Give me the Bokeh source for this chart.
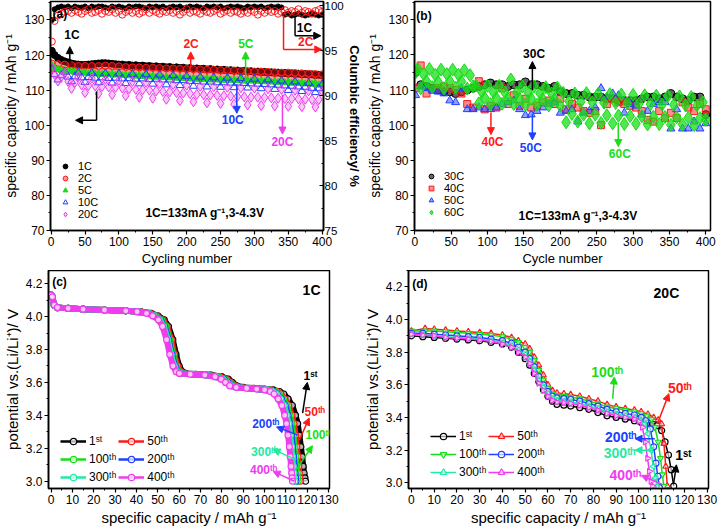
import math
from bokeh.plotting import figure
from bokeh.models import (Range1d, LinearAxis, SingleIntervalTicker, NumeralTickFormatter,
                          Arrow, NormalHead, Label, Legend, LegendItem)
from bokeh.layouts import column, row
from bokeh.embed import file_html
from bokeh.resources import INLINE

FONT = "Liberation Sans"
C_BLACK = "#000000"
C_RED = "#ff1a1a"
C_GREEN = "#18dd18"
C_BLUE = "#2040ff"
C_MAG = "#ee3cee"
C_CYAN = "#22eaa2"

# ---------------- (a) cycling at 1C..20C ----------------
cyc_a = [1] + list(range(5, 401, 5))
cap_1c = [121.2, 120.0, 119.2, 118.6, 118.2, 117.9, 117.6, 117.4, 117.3, 117.2, 117.2, 117.3, 117.4, 117.5, 117.6, 117.7, 117.7, 117.6, 117.5, 117.4, 117.3,
          117.3, 117.1, 117.2, 117.0, 117.1, 116.9, 117.0, 116.8, 116.9, 116.7,
          116.8, 116.6, 116.7, 116.5, 116.6, 116.4, 116.5, 116.3, 116.4, 116.2,
          116.3, 116.1, 116.2, 116.0, 116.1, 115.9, 116.0, 115.8, 115.9, 115.7,
          115.8, 115.6, 115.7, 115.5, 115.6, 115.4, 115.5, 115.3, 115.4, 115.2,
          115.3, 115.1, 115.2, 115.0, 115.1, 114.9, 115.0, 114.8, 114.9, 114.7,
          114.8, 114.6, 114.7, 114.5, 114.6, 114.4, 114.5, 114.3, 114.4, 114.2]
cap_2c = [117.6, 116.2, 117.4, 115.8, 117.3, 115.6, 117.1, 115.5, 116.9, 115.4, 116.9, 115.3, 116.9, 115.3, 116.9, 115.2, 117.0, 115.2, 116.9, 115.1, 116.8,
          115.1, 116.6, 115.0, 116.5, 115.0, 116.5, 114.9, 116.4, 114.9, 116.4,
          114.8, 116.3, 114.8, 116.2, 114.7, 116.2, 114.7, 116.1, 114.6, 116.0,
          114.5, 116.0, 114.5, 115.9, 114.4, 115.8, 114.3, 115.8, 114.3, 115.7,
          114.2, 115.6, 114.1, 115.6, 114.0, 115.5, 114.0, 115.4, 113.9, 115.3,
          113.8, 115.3, 113.8, 115.2, 113.7, 115.1, 113.6, 115.0, 113.5, 115.0,
          113.5, 114.9, 113.4, 114.8, 113.3, 114.7, 113.2, 114.6, 113.1, 114.5]
cap_5c = [117.0, 116.3, 116.0, 115.7, 115.6, 115.3, 115.4, 115.1, 115.2, 114.9, 115.0, 114.7, 115.0, 114.6, 114.8, 114.5, 114.7, 114.4, 114.6, 114.3, 114.5,
          114.2, 114.4, 114.1, 114.3, 114.0, 114.2, 113.9, 114.1, 113.8, 114.0,
          113.7, 113.9, 113.6, 113.8, 113.5, 113.7, 113.4, 113.6, 113.3, 113.5,
          113.2, 113.4, 113.1, 113.3, 113.0, 113.3, 112.9, 113.2, 112.9, 113.1,
          112.8, 113.0, 112.8, 112.9, 112.7, 112.9, 112.6, 112.8, 112.6, 112.7,
          112.5, 112.7, 112.4, 112.6, 112.3, 112.5, 112.2, 112.4, 112.1, 112.3,
          112.0, 112.2, 111.9, 112.1, 111.8, 112.0, 111.7, 111.9, 111.5, 111.7]
cap_10c = [116.0, 114.5, 113.0, 114.2, 115.2, 113.8, 112.5, 113.9, 115.0, 113.6, 112.3, 113.7, 114.9, 113.5, 112.2, 113.6, 114.8, 113.4, 112.1, 113.5, 114.7,
           113.3, 112.0, 113.4, 114.6, 113.2, 111.9, 113.3, 114.5, 113.1, 111.8,
           113.2, 114.4, 113.0, 111.6, 113.0, 114.2, 112.8, 111.4, 112.8, 114.0,
           112.6, 111.2, 112.6, 113.8, 112.4, 111.0, 112.4, 113.6, 112.2, 110.9,
           112.2, 113.5, 112.1, 110.8, 112.1, 113.4, 112.0, 110.7, 111.9, 113.2,
           111.8, 110.5, 111.7, 113.0, 111.6, 110.3, 111.5, 112.7, 111.3, 110.0,
           111.2, 112.4, 111.0, 109.7, 110.9, 112.0, 110.6, 109.4, 110.5, 111.6]
cap_20c = [116.3, 114.5, 112.6, 113.8, 114.8, 112.5, 110.5, 112.2, 113.8, 111.5, 109.3, 111.3, 113.4, 111.2, 109.0, 111.0, 113.1, 110.9, 108.7, 110.8, 112.8,
           110.6, 108.4, 110.4, 112.5, 110.2, 108.0, 110.1, 112.2, 110.0, 107.7,
           109.8, 111.9, 109.6, 107.4, 109.5, 111.6, 109.3, 107.0, 109.2, 111.4,
           109.0, 106.7, 108.8, 111.1, 108.7, 106.4, 108.6, 111.0, 108.5, 106.2,
           108.4, 110.8, 108.3, 106.0, 108.2, 110.7, 108.1, 105.8, 108.0, 110.6,
           108.0, 105.6, 107.9, 110.4, 107.8, 105.5, 107.7, 110.2, 107.6, 105.4,
           107.6, 110.0, 107.5, 105.3, 107.4, 109.8, 107.3, 105.2, 107.3, 109.7]
ce_1c = [98.4, 99.6, 99.8,
         99.9, 99.8, 99.9, 99.7, 99.9, 99.8, 99.8, 99.9, 99.7, 99.9,
         99.8, 99.9, 99.9, 99.8, 99.7, 99.9, 99.8, 99.9, 99.8, 99.7,
         99.9, 99.8, 99.9, 99.9, 99.8, 99.7, 99.9, 99.8, 99.9, 99.8,
         99.9, 99.7, 99.8, 99.9, 99.8, 99.9, 99.7, 99.8, 99.9, 99.8,
         99.9, 99.8, 99.7, 99.9, 99.8, 99.9, 99.8, 99.9, 99.7, 99.8,
         99.9, 99.8, 99.9, 99.8, 99.7, 99.9, 99.8, 99.9, 99.8, 99.9,
         99.7, 99.8, 99.9, 99.8, 99.9, 99.8,
         99.0, 99.1, 98.9, 99.0, 99.1, 99.0, 98.9, 99.0, 99.1, 99.0, 98.9, 99.0]
ce_2c = [96.0, 98.3, 98.9, 99.1, 99.3,
         99.4, 99.2, 99.5, 99.3, 99.1, 99.4, 99.6, 99.2, 99.3, 99.5,
         99.1, 99.4, 99.3, 99.6, 99.2, 99.4, 99.0, 99.3, 99.5, 99.2,
         99.4, 99.1, 99.3, 99.6, 99.2, 99.5, 99.3, 99.1, 99.4, 99.3,
         99.5, 99.2, 99.4, 99.0, 99.3, 99.6, 99.2, 99.4, 99.3, 99.1,
         99.5, 99.3, 99.2, 99.4, 99.6, 99.1, 99.3, 99.5, 99.2, 99.4,
         99.3, 99.1, 99.4, 99.2, 99.5, 99.3, 99.0, 99.4, 99.2, 99.5,
         99.3, 99.4, 99.1, 99.3, 99.5, 99.2, 99.4, 99.3, 99.6, 99.2,
         99.4, 99.3, 99.1, 99.4, 99.5, 99.3]

# ---------------- (b) cycling at 30C..60C ----------------
cyc_b = [1] + list(range(8, 401, 8))
cyc_b60 = [1] + list(range(4, 401, 4))
cap_30c = [115.0, 111.5, 111.0, 110.5, 110.0, 109.5, 109.5, 109.0, 109.5, 110.0,
           110.5, 111.0, 111.5, 112.0, 111.5, 111.5, 111.0, 111.5, 111.5, 112.3,
           111.5, 111.5, 111.0, 110.5, 111.0, 109.5, 109.0, 109.0, 108.5, 108.5,
           108.0, 108.0, 108.0, 107.5, 107.5, 107.0, 107.0, 107.0, 107.0, 107.5,
           108.0, 108.0, 107.5, 108.0, 109.0, 108.0, 107.5, 107.0, 108.0, 108.0, 103.0]
cap_40c = [110.5, 117.0, 109.0, 110.0, 110.5, 111.0, 110.5, 110.0, 109.0, 106.0,
           105.0, 112.5, 104.5, 105.5, 105.0, 110.5, 106.0, 108.5, 105.5, 107.5,
           105.0, 105.5, 106.5, 107.0, 106.0, 107.5, 104.5, 106.0, 105.0, 104.0,
           103.5, 104.0, 100.0, 106.0, 107.5, 106.5, 106.0, 105.5, 105.0, 104.0,
           101.5, 101.0, 104.0, 102.0, 103.5, 102.0, 106.5, 105.0, 104.0, 106.0, 104.5]
cap_50c = [108.5, 111.0, 110.5, 110.0, 109.5, 109.0, 107.0, 106.5, 110.5, 104.5,
           104.5, 105.0, 104.5, 104.5, 105.0, 106.0, 106.5, 107.0, 104.5, 102.8,
           103.0, 104.0, 105.0, 106.0, 106.5, 103.5, 104.0, 104.5, 101.0, 103.5,
           104.0, 105.0, 110.5, 108.0, 109.0, 108.5, 103.5, 106.0, 105.5, 103.0,
           104.0, 106.0, 106.5, 106.5, 99.0, 104.5, 99.0, 99.0, 101.0, 99.0, 100.5]
cap_60c = [115.0, 116.0, 110.5, 114.5, 112.5, 116.0, 110.8, 114.3, 112.3, 115.8,
           110.5, 114.5, 112.5, 115.8, 110.7, 114.3, 112.4, 115.6, 110.4, 114.2, 111.0,
           111.3, 106.2, 109.5, 107.8, 111.2, 106.0, 109.4, 107.7, 111.2, 106.1,
           109.3, 107.6, 113.0, 106.0, 109.3, 107.5, 111.0, 105.8, 109.2, 107.5,
           111.0, 105.8, 109.1, 107.4, 110.8, 105.6, 109.0, 107.3, 110.7, 105.5,
           109.2, 100.8, 106.8, 103.2, 109.0, 101.0, 106.6, 103.0, 109.1, 100.5,
           106.5, 103.0, 108.9, 100.6, 106.4, 102.8, 108.8, 100.5, 106.3, 102.7,
           108.7, 100.3, 106.2, 102.6, 108.6, 100.4, 106.1, 102.5, 108.5, 100.2,
           106.0, 102.4, 108.4, 100.3, 105.9, 102.3, 108.3, 100.1, 105.8, 102.2,
           108.2, 100.2, 105.7, 102.1, 108.0, 100.0, 105.6, 102.0, 106.5, 101.5]

# ---------------- (c) discharge curves at 1C ----------------
volt_c = [4.13, 4.12, 4.07, 4.055, 4.05, 4.045, 4.04, 4.035, 4.03, 4.02,
          4.005, 3.98, 3.94, 3.86, 3.77, 3.70, 3.665, 3.655,
          3.65, 3.645, 3.635, 3.62, 3.60, 3.58, 3.57, 3.565, 3.56,
          3.555, 3.545, 3.53, 3.50, 3.46, 3.40, 3.35, 3.28, 3.21, 3.15,
          3.09, 3.05, 3.02, 3.0]
capc_1st = [0, 0.6, 1.5, 3, 8, 15, 25, 35, 42, 47, 50, 53, 55, 57, 58.5, 60, 61.5, 63,
            68, 75, 80, 83, 85, 87, 90, 95, 100, 104, 107, 109, 111, 113, 114.5, 115.5, 116.3, 117, 117.6,
            118.1, 118.5, 118.9, 119.2]
capc_50th = [0, 0.6, 1.5, 3, 8, 15, 25, 35, 42, 46.5, 49.5, 52.3, 54.3, 56.3, 57.8, 59.3, 60.8, 62.3,
             67.5, 74.2, 79.2, 82.2, 84.2, 86.2, 89.2, 94.2, 99.2, 103, 105.8, 107.6, 109.5, 111.3, 112.8, 113.8, 114.5, 115.1, 115.6,
             116, 116.3, 116.5, 116.7]
capc_100th = [0, 0.6, 1.5, 3, 8, 15, 25, 35, 41.5, 46, 49, 51.8, 53.7, 55.6, 57.1, 58.6, 60.1, 61.6,
              66.8, 73.6, 78.5, 81.5, 83.5, 85.5, 88.5, 93.5, 98.4, 102.2, 105, 106.8, 108.7, 110.5, 111.9, 112.8, 113.5, 114.1, 114.6,
              115, 115.3, 115.5, 115.7]
capc_200th = [0, 0.6, 1.5, 3, 8, 15, 25, 35, 41, 45.5, 48.5, 51.3, 53.2, 55.1, 56.6, 58.1, 59.6, 61.1,
              66.2, 73, 77.8, 80.8, 82.8, 84.8, 87.8, 92.8, 97.6, 101.4, 104.2, 106, 107.9, 109.7, 111, 111.9, 112.6, 113.2, 113.6,
              114, 114.3, 114.5, 114.7]
capc_300th = [0, 0.6, 1.5, 3, 8, 15, 25, 35, 40.7, 45.2, 48.2, 50.9, 52.8, 54.7, 56.2, 57.7, 59.2, 60.7,
              65.8, 72.6, 77.4, 80.4, 82.4, 84.4, 87.4, 92.4, 97.1, 100.9, 103.7, 105.5, 107.4, 109.1, 110.4, 111.3, 112, 112.6, 113,
              113.4, 113.7, 113.9, 114.1]
capc_400th = [0, 0.6, 1.5, 3, 8, 15, 25, 35, 40.3, 44.7, 47.6, 50.3, 52.2, 54.1, 55.6, 57.1, 58.6, 60.1,
              65.2, 72, 76.8, 79.7, 81.7, 83.7, 86.7, 91.6, 96.3, 100, 102.7, 104.5, 106.4, 108.1, 109.4, 110.3, 111, 111.6, 112,
              112.4, 112.7, 112.9, 113.1]

# ---------------- (d) discharge curves at 20C ----------------
capd_1st = [0, 5, 10, 15, 20, 25, 30, 35, 40, 44, 47, 50, 52, 54, 56, 58, 60, 62, 64, 67,
            70, 74, 78, 82, 86, 90, 94, 98, 101, 104, 106, 108, 110, 111.5, 113, 114.2, 115.3]
vd_1st = [3.90, 3.895, 3.89, 3.885, 3.88, 3.875, 3.87, 3.86, 3.85, 3.83, 3.80, 3.76, 3.72, 3.67, 3.62, 3.57, 3.53, 3.50, 3.48, 3.475,
          3.47, 3.46, 3.45, 3.43, 3.41, 3.40, 3.39, 3.38, 3.37, 3.365, 3.36, 3.35, 3.32, 3.25, 3.17, 3.08, 2.98]
capd_50th = [0, 6, 10, 15, 20, 25, 30, 35, 40, 44, 47, 50, 52, 54, 56, 58, 60, 62, 64, 67,
             70, 74, 78, 82, 86, 90, 94, 98, 101, 104, 106.5, 108.5, 110, 111, 111.8, 112.5]
vd_50th = [3.93, 3.945, 3.94, 3.935, 3.93, 3.925, 3.92, 3.915, 3.905, 3.89, 3.87, 3.85, 3.82, 3.77, 3.72, 3.66, 3.60, 3.565, 3.55, 3.545,
           3.54, 3.53, 3.515, 3.50, 3.48, 3.465, 3.455, 3.445, 3.435, 3.42, 3.40, 3.385, 3.36, 3.24, 3.10, 2.98]
capd_100th = [0, 6, 10, 15, 20, 25, 30, 35, 40, 44, 47, 50, 52, 54, 56, 58, 60, 62, 64, 67,
              70, 74, 78, 82, 86, 90, 94, 98, 101, 103.5, 105.5, 107, 108.5, 109.5, 110.3, 111]
vd_100th = [3.93, 3.93, 3.93, 3.925, 3.92, 3.915, 3.91, 3.905, 3.895, 3.88, 3.86, 3.83, 3.80, 3.75, 3.69, 3.63, 3.58, 3.545, 3.535, 3.53,
            3.525, 3.515, 3.50, 3.485, 3.465, 3.455, 3.445, 3.435, 3.425, 3.41, 3.39, 3.34, 3.25, 3.15, 3.05, 2.98]
capd_200th = [0, 5, 10, 15, 20, 25, 30, 35, 40, 44, 47, 50, 52, 54, 56, 58, 60, 62, 64, 67,
              70, 74, 78, 82, 86, 90, 94, 98, 101, 103, 105, 106.5, 107.5, 108.3, 109]
vd_200th = [3.915, 3.915, 3.91, 3.905, 3.90, 3.895, 3.89, 3.88, 3.87, 3.855, 3.83, 3.80, 3.76, 3.71, 3.65, 3.60, 3.56, 3.53, 3.52, 3.515,
            3.51, 3.50, 3.485, 3.47, 3.45, 3.435, 3.425, 3.415, 3.40, 3.38, 3.33, 3.22, 3.12, 3.04, 2.97]
capd_300th = [0, 5, 10, 15, 20, 25, 30, 35, 40, 44, 47, 50, 52, 54, 56, 58, 60, 62, 64, 67,
              70, 74, 78, 82, 86, 90, 94, 98, 100.5, 102.5, 104, 105.3, 106.3, 107.2, 108]
vd_300th = [3.91, 3.905, 3.90, 3.895, 3.89, 3.885, 3.88, 3.87, 3.86, 3.84, 3.815, 3.785, 3.745, 3.69, 3.63, 3.585, 3.545, 3.515, 3.505, 3.50,
            3.495, 3.485, 3.47, 3.455, 3.435, 3.42, 3.41, 3.40, 3.385, 3.36, 3.30, 3.20, 3.10, 3.03, 2.98]
capd_400th = [0, 5, 10, 15, 20, 25, 30, 35, 40, 44, 47, 50, 52, 54, 56, 58, 60, 62, 64, 67,
              70, 74, 78, 82, 86, 90, 94, 98, 100, 101.5, 102.8, 103.8, 104.6, 105.3, 106]
vd_400th = [3.91, 3.905, 3.90, 3.89, 3.885, 3.88, 3.875, 3.865, 3.85, 3.83, 3.80, 3.77, 3.73, 3.67, 3.61, 3.565, 3.53, 3.505, 3.495, 3.49,
            3.485, 3.475, 3.46, 3.445, 3.425, 3.41, 3.40, 3.39, 3.375, 3.34, 3.25, 3.15, 3.07, 3.01, 2.98]

cycle_labels = ["1ˢᵗ", "50ᵗʰ", "100ᵗʰ", "200ᵗʰ", "300ᵗʰ", "400ᵗʰ"]
cycle_colors = [C_BLACK, C_RED, C_GREEN, C_BLUE, C_CYAN, C_MAG]


def pair(x, y):
    n = min(len(x), len(y))
    return list(x[:n]), list(y[:n])


def base_fig(width, height, xr, yr, mb):
    p = figure(width=width, height=height, x_range=Range1d(*xr), y_range=Range1d(*yr),
               output_backend="svg", toolbar_location=None,
               min_border_left=mb[0], min_border_right=mb[1],
               min_border_top=mb[2], min_border_bottom=mb[3])
    p.xgrid.visible = False
    p.ygrid.visible = False
    p.outline_line_color = "black"
    p.outline_line_width = 1.5
    p.outline_line_alpha = 1
    p.background_fill_color = "white"
    p.border_fill_color = "white"
    return p


def style_axis(ax, label, lsize="14px", bold=False, tsize="12px"):
    ax.axis_label = label
    ax.axis_label_text_font = FONT
    ax.axis_label_text_font_size = lsize
    ax.axis_label_text_font_style = "bold" if bold else "normal"
    ax.axis_label_text_color = "black"
    ax.axis_label_standoff = 2
    ax.major_label_text_font = FONT
    ax.major_label_text_font_size = tsize
    ax.major_label_text_color = "black"
    ax.major_label_standoff = 2
    ax.axis_line_color = "black"
    ax.axis_line_width = 1.6
    ax.major_tick_line_color = "black"
    ax.minor_tick_line_color = "black"
    ax.major_tick_line_width = 1.2
    ax.major_tick_out = 4
    ax.major_tick_in = 0
    ax.minor_tick_out = 2
    ax.minor_tick_in = 0


def label(p, x, y, text, color, size="12px", bold=True, align="center", level="annotation"):
    p.add_layout(Label(x=x, y=y, text=text, text_color=color, text_font=FONT,
                       text_font_size=size, text_font_style="bold" if bold else "normal",
                       text_align=align, text_baseline="middle", level=level))


def arrow(p, x0, y0, x1, y1, color, head=True, width=1.5):
    p.add_layout(Arrow(x_start=x0, y_start=y0, x_end=x1, y_end=y1, line_color=color,
                       line_width=width,
                       end=NormalHead(size=7, line_color=color, fill_color=color) if head else None))


def style_legend(lg, loc, font="11px", gw=14, gh=12, lh=12):
    lg.location = loc
    lg.background_fill_alpha = 0
    lg.border_line_alpha = 0
    lg.label_text_font = FONT
    lg.label_text_font_size = font
    lg.label_text_color = "black"
    lg.glyph_width = gw
    lg.glyph_height = gh
    lg.label_height = lh
    lg.spacing = 0
    lg.padding = 2
    lg.margin = 0
    lg.label_standoff = 6


# ======================= panel (a) =======================
pa = base_fig(364, 270, (-1, 402), (70, 135.27), (43, 30, 1, 40))
pa.extra_y_ranges = {"ce": Range1d(75, 100.46)}
style_axis(pa.xaxis[0], "Cycling number", "13px")
style_axis(pa.yaxis[0], "specific capacity / mAh g⁻¹", "14px")
pa.xaxis[0].ticker = SingleIntervalTicker(interval=50, num_minor_ticks=2)
pa.yaxis[0].ticker = SingleIntervalTicker(interval=10, num_minor_ticks=2)
ax_r = LinearAxis(y_range_name="ce", ticker=SingleIntervalTicker(interval=5, num_minor_ticks=2))
style_axis(ax_r, "Columbic efficiency/ %", "13px", bold=True, tsize="11.5px")
ax_r.major_tick_out = 0
ax_r.major_tick_in = 4
ax_r.minor_tick_out = 0
ax_r.minor_tick_in = 2
ax_r.major_label_standoff = 1
ax_r.axis_label_standoff = 0
pa.add_layout(ax_r, "right")

x, y = pair(cyc_a, ce_1c)
pa.scatter(x, y, y_range_name="ce", marker="circle", size=5, line_color=C_BLACK, fill_color=C_BLACK)
x, y = pair(cyc_a, ce_2c)
pa.scatter(x, y, y_range_name="ce", marker="circle", size=7, line_color=C_RED, fill_color=None, line_width=1)

x, y = pair(cyc_a, cap_1c)
pa.scatter(x, y, marker="circle", size=7, line_color=C_BLACK, fill_color=C_BLACK, legend_label="1C")
x, y = pair(cyc_a, cap_2c)
pa.scatter(x, y, marker="circle", size=7, line_color=C_RED, fill_color=C_RED, fill_alpha=0.45,
           legend_label="2C")
x, y = pair(cyc_a, cap_5c)
pa.scatter(x, y, marker="triangle", size=7, line_color=C_GREEN, fill_color=C_GREEN, legend_label="5C")
x, y = pair(cyc_a, cap_10c)
pa.scatter(x, y, marker="triangle", size=8, line_color=C_BLUE, fill_color=None, legend_label="10C")
x, y = pair(cyc_a, cap_20c)
pa.scatter(x, y, marker="diamond", size=10, line_color=C_MAG, fill_color=C_MAG, fill_alpha=0.3,
           legend_label="20C")
style_legend(pa.legend[0], (6, 8))
label(pa, 2, 131.8, "(a)", C_BLACK, "12px", align="left")

arrow(pa, 27.5, 117.5, 27.5, 122.4, C_BLACK)
label(pa, 30.6, 125.6, "1C", C_BLACK)
arrow(pa, 206, 116.5, 206, 120.9, C_RED)
label(pa, 206.5, 123.1, "2C", C_RED)
arrow(pa, 287, 111.7, 287, 120.9, C_GREEN)
label(pa, 287.3, 123.1, "5C", C_GREEN)
arrow(pa, 274, 111.7, 274, 103.4, C_BLUE)
label(pa, 268, 101.4, "10C", C_BLUE)
arrow(pa, 341.4, 108.7, 341.4, 97.5, C_MAG)
label(pa, 341.4, 95.2, "20C", C_MAG)
arrow(pa, 67, 109.6, 67, 101.4, C_BLACK, head=False)
arrow(pa, 67, 101.4, 36, 101.4, C_BLACK)
arrow(pa, 360, 131.2, 360, 125.5, C_BLACK, head=False)
arrow(pa, 360, 125.5, 398, 125.5, C_BLACK)
label(pa, 374, 127.6, "1C", C_BLACK)
arrow(pa, 343, 131.2, 343, 121.6, C_RED, head=False)
arrow(pa, 343, 121.6, 399.5, 121.6, C_RED)
label(pa, 375.7, 123.6, "2C", C_RED)
label(pa, 227, 75.1, "1C=133mA g⁻¹,3-4.3V", C_BLACK, "12px")

# ======================= panel (b) =======================
pb = base_fig(356, 270, (-0.5, 406.5), (70, 135.2), (40, 10, 1, 40))
style_axis(pb.xaxis[0], "Cycle number", "13px")
style_axis(pb.yaxis[0], "specific capacity / mAh g⁻¹", "14px")
pb.xaxis[0].ticker = SingleIntervalTicker(interval=50, num_minor_ticks=2)
pb.yaxis[0].ticker = SingleIntervalTicker(interval=10, num_minor_ticks=2)
label(pb, 2, 131.2, "(b)", C_BLACK, "12px", align="left")

x, y = pair(cyc_b, cap_30c)
pb.scatter(x, y, marker="circle", size=8, line_color=C_BLACK, fill_color=C_BLACK, fill_alpha=0.6,
           legend_label="30C")
x, y = pair(cyc_b, cap_40c)
pb.scatter(x, y, marker="square", size=7, line_color=C_RED, fill_color=C_RED, fill_alpha=0.5,
           legend_label="40C")
x, y = pair(cyc_b, cap_50c)
pb.scatter(x, y, marker="triangle", size=8, line_color=C_BLUE, fill_color=C_BLUE, fill_alpha=0.5,
           legend_label="50C")
x, y = pair(cyc_b60, cap_60c)
pb.scatter(x, y, marker="diamond", size=13, line_color=C_GREEN, fill_color=C_GREEN, fill_alpha=0.75,
           legend_label="60C")
style_legend(pb.legend[0], (8, 10))

arrow(pb, 161.6, 109.9, 161.6, 118.1, C_BLACK)
label(pb, 163.9, 120.2, "30C", C_BLACK)
arrow(pb, 104.6, 103.6, 104.6, 97.3, C_RED)
label(pb, 106.7, 95.1, "40C", C_RED)
arrow(pb, 161.6, 103.1, 161.6, 95.8, C_BLUE)
label(pb, 159.5, 93.6, "50C", C_BLUE)
arrow(pb, 279.7, 100.7, 279.7, 93.9, C_GREEN)
label(pb, 281.8, 91.7, "60C", C_GREEN)
label(pb, 224.5, 74.0, "1C=133mA g⁻¹,3-4.3V", C_BLACK, "12px")

# ======================= panel (c) =======================
pc = base_fig(360, 260, (-1.2, 130.4), (2.956, 4.28), (43, 31, 0, 41))
style_axis(pc.xaxis[0], "specific capacity / mAh g⁻¹", "15px")
style_axis(pc.yaxis[0], "potential vs.(Li/Li⁺)/ V", "15px")
pc.xaxis[0].ticker = SingleIntervalTicker(interval=10, num_minor_ticks=2)
pc.yaxis[0].ticker = SingleIntervalTicker(interval=0.2, num_minor_ticks=2)
pc.yaxis[0].formatter = NumeralTickFormatter(format="0.0")
label(pc, 0.5, 4.21, "(c)", C_BLACK, "12px", align="left")
label(pc, 122, 4.16, "1C", C_BLACK, "14px")

caps_c = [capc_1st, capc_50th, capc_100th, capc_200th, capc_300th, capc_400th]
items_c = []
for cap, lab, col in zip(caps_c, cycle_labels, cycle_colors):
    x, y = pair(cap, volt_c)
    thin = pc.line(x, y, line_color=col, line_width=2.5)
    pc.line(x, y, line_color=col, line_width=6)
    sc = pc.scatter(x, y, marker="circle", size=6, line_color=col, fill_color="white", fill_alpha=0.7,
                    line_width=1.2)
    items_c.append(LegendItem(label=lab, renderers=[thin, sc]))
leg_c = Legend(items=items_c, orientation="horizontal", ncols=2)
style_legend(leg_c, (10, 1), font="12px", gw=26, gh=16, lh=16)
leg_c.label_standoff = 3
leg_c.spacing = 2
pc.add_layout(leg_c)

arrow(pc, 117.8, 3.414, 120, 3.60, C_BLACK)
label(pc, 121.5, 3.64, "1ˢᵗ", C_BLACK)
arrow(pc, 116.3, 3.25, 120.9, 3.384, C_RED)
label(pc, 123.5, 3.42, "50ᵗʰ", C_RED)
arrow(pc, 114.7, 3.067, 122.4, 3.216, C_GREEN)
label(pc, 125.5, 3.28, "100ᵗʰ", C_GREEN)
arrow(pc, 115.6, 3.28, 105.6, 3.33, C_BLUE)
label(pc, 100.5, 3.35, "200ᵗʰ", C_BLUE)
arrow(pc, 114.8, 3.13, 104, 3.194, C_CYAN)
label(pc, 100, 3.175, "300ᵗʰ", C_CYAN)
arrow(pc, 114, 3.0, 104, 3.06, C_MAG)
label(pc, 99.5, 3.07, "400ᵗʰ", C_MAG)

# ======================= panel (d) =======================
pd_ = base_fig(360, 260, (-1.3, 130.6), (2.965, 4.30), (46, 12, 0, 42))
style_axis(pd_.xaxis[0], "specific capacity / mAh g⁻¹", "15px")
style_axis(pd_.yaxis[0], "potential vs.(Li/Li⁺)/ V", "15px")
pd_.xaxis[0].ticker = SingleIntervalTicker(interval=10, num_minor_ticks=2)
pd_.yaxis[0].ticker = SingleIntervalTicker(interval=0.2, num_minor_ticks=2)
pd_.yaxis[0].formatter = NumeralTickFormatter(format="0.0")
label(pd_, 0.3, 4.217, "(d)", C_BLACK, "12px", align="left")
label(pd_, 112.1, 4.16, "20C", C_BLACK, "14px")

caps_d = [(capd_1st, vd_1st), (capd_50th, vd_50th), (capd_100th, vd_100th),
          (capd_200th, vd_200th), (capd_300th, vd_300th), (capd_400th, vd_400th)]
markers_d = [("circle", 0), ("triangle", 0), ("inverted_triangle", 0), ("circle", 0),
             ("triangle", math.pi / 2), ("triangle", -math.pi / 2)]
items_d = []
for (cap, v), lab, col, (mk, ang) in zip(caps_d, cycle_labels, cycle_colors, markers_d):
    x, y = pair(cap, v)
    ln = pd_.line(x, y, line_color=col, line_width=1.5)
    sc = pd_.scatter(x, y, marker=mk, angle=ang, size=6, line_color=col, fill_color="white",
                     fill_alpha=0.6, line_width=1.2)
    items_d.append(LegendItem(label=lab, renderers=[ln, sc]))
leg_d = Legend(items=items_d, orientation="horizontal", ncols=2)
style_legend(leg_d, (20, 6), font="12px", gw=26, gh=16, lh=16)
leg_d.label_standoff = 3
leg_d.spacing = 2
pd_.add_layout(leg_d)

arrow(pd_, 88.5, 3.515, 89.2, 3.648, C_GREEN)
label(pd_, 86, 3.68, "100ᵗʰ", C_GREEN, "14px")
arrow(pd_, 108.1, 3.36, 113.2, 3.546, C_RED)
label(pd_, 118, 3.58, "50ᵗʰ", C_RED, "14px")
arrow(pd_, 107, 3.27, 98.3, 3.27, C_BLUE)
label(pd_, 92, 3.28, "200ᵗʰ", C_BLUE, "14px")
arrow(pd_, 106, 3.20, 98.3, 3.20, C_CYAN)
label(pd_, 91.5, 3.18, "300ᵗʰ", C_CYAN, "14px")
arrow(pd_, 110.3, 2.99, 101.1, 3.045, C_MAG)
label(pd_, 94, 3.05, "400ᵗʰ", C_MAG, "14px")
arrow(pd_, 115.2, 2.99, 116.5, 3.11, C_BLACK)
label(pd_, 119.5, 3.17, "1ˢᵗ", C_BLACK, "14px")

layout = column(row(pa, pb), row(pc, pd_))
open("out.html", "w").write(file_html(layout, INLINE))
